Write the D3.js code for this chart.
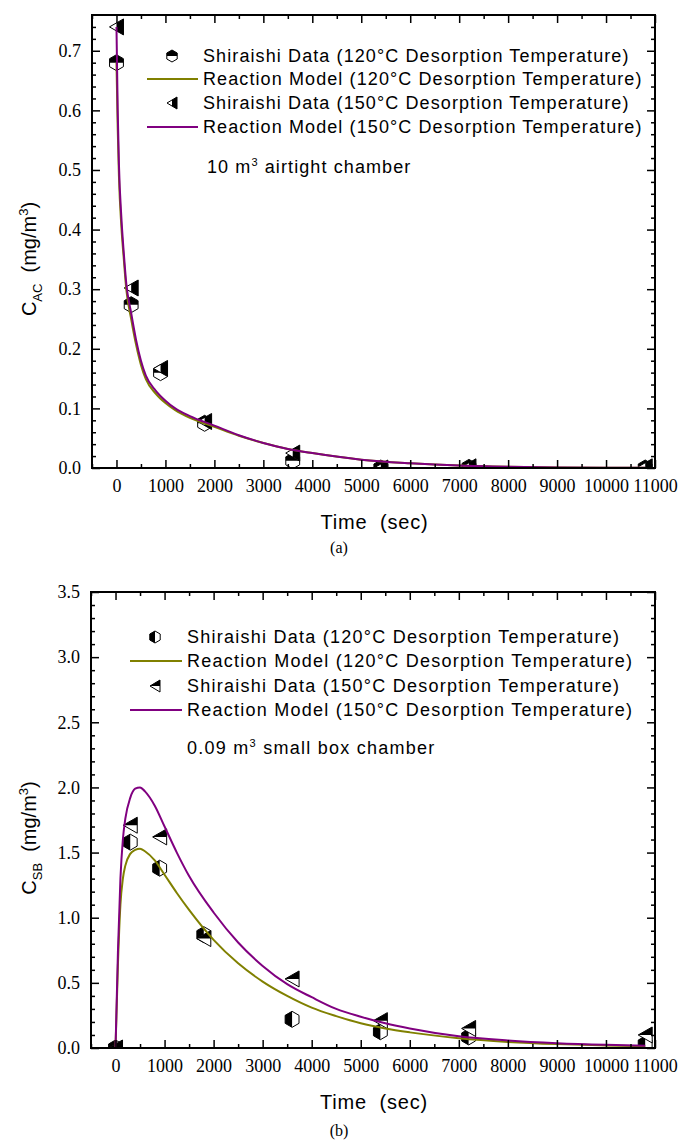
<!DOCTYPE html>
<html>
<head>
<meta charset="utf-8">
<script src="https://cdn.jsdelivr.net/npm/d3@7/dist/d3.min.js"></script>
<style>
  body { margin: 0; background: #fff; }
  svg { display: block; }
  .legend-text { font-family: 'Liberation Sans', Arial, sans-serif; font-size: 18px; fill: #000; }
  .axis-title { font-family: 'Liberation Sans', Arial, sans-serif; font-size: 20px; fill: #000; }
  .caption { font-family: 'Liberation Serif', 'Times New Roman', serif; font-size: 16px; fill: #000; }
</style>
</head>
<body>
<svg width="679" height="1144"></svg>
<script>
// shared x axis
const timeTicks = [0, 1000, 2000, 3000, 4000, 5000, 6000, 7000, 8000, 9000, 10000, 11000];
const timeMinorTicks = [-500, 500, 1500, 2500, 3500, 4500, 5500, 6500, 7500, 8500, 9500, 10500];
const sampleTimes = [0, 300, 900, 1800, 3600, 5400, 7200, 10800];

// panel (a) : 10 m3 airtight chamber
const acTicks = [0, 0.1, 0.2, 0.3, 0.4, 0.5, 0.6, 0.7];
const acData120 = [0.68, 0.274, 0.16, 0.075, 0.012, 0.0, 0.001, 0.0];
const acData150 = [0.74, 0.302, 0.167, 0.078, 0.025, 0.0, 0.002, 0.002];
const acModelTimes = [0, 25, 50, 100, 150, 200, 300, 400, 500, 600, 800, 1000, 1200, 1500, 2000, 2500, 3000, 3500, 4000, 5000, 6000, 7000, 8000, 9000, 10000, 10800];
const acModel120 = [0.68, 0.57, 0.49, 0.405, 0.35, 0.30, 0.25, 0.207, 0.173, 0.149, 0.125, 0.109, 0.097, 0.084, 0.069, 0.054, 0.042, 0.032, 0.025, 0.014, 0.008, 0.004, 0.002, 0.001, 0.0005, 0.0003];
const acModel150 = [0.74, 0.60, 0.51, 0.42, 0.36, 0.31, 0.26, 0.215, 0.18, 0.155, 0.13, 0.113, 0.1, 0.087, 0.071, 0.055, 0.042, 0.032, 0.025, 0.014, 0.008, 0.004, 0.002, 0.001, 0.0005, 0.0003];

// panel (b) : 0.09 m3 small box chamber
const sbTicks = [0, 0.5, 1.0, 1.5, 2.0, 2.5, 3.0, 3.5];
const sbData120 = [0.0, 1.58, 1.38, 0.87, 0.22, 0.125, 0.085, 0.03];
const sbData150 = [0.0, 1.71, 1.62, 0.84, 0.53, 0.21, 0.15, 0.10];
const sbModelTimes = [0, 50, 100, 150, 200, 300, 400, 500, 600, 800, 1000, 1250, 1500, 2000, 2500, 3000, 3500, 4000, 4500, 5000, 5500, 6000, 7000, 8000, 9000, 10000, 10800];
const sbModel120 = [0, 0.65, 1.1, 1.3, 1.4, 1.49, 1.52, 1.53, 1.51, 1.44, 1.33, 1.19, 1.06, 0.83, 0.65, 0.51, 0.40, 0.31, 0.245, 0.19, 0.15, 0.12, 0.075, 0.047, 0.03, 0.02, 0.014];
const sbModel150 = [0, 0.75, 1.3, 1.6, 1.76, 1.92, 1.99, 2.0, 1.97, 1.86, 1.70, 1.50, 1.32, 1.04, 0.81, 0.63, 0.49, 0.39, 0.30, 0.24, 0.19, 0.15, 0.09, 0.058, 0.037, 0.024, 0.017];

const legendLabels = [
  'Shiraishi Data (120°C Desorption Temperature)',
  'Reaction Model (120°C Desorption Temperature)',
  'Shiraishi Data (150°C Desorption Temperature)',
  'Reaction Model (150°C Desorption Temperature)'
];

const olive = '#808000';
const purple = '#800080';
const tickFont = "'Liberation Serif', 'Times New Roman', serif";

const svg = d3.select('svg');
const defs = svg.append('defs');

// half filled markers
const hexagon = (g, x, y, r, half) => {
  const pts = d3.range(6).map(i => {
    const a = -Math.PI / 2 + i * Math.PI / 3;
    return [x + r * Math.cos(a), y + r * Math.sin(a)];
  });
  const c = r * Math.cos(Math.PI / 6);
  g.append('path')
    .attr('d', 'M' + pts.join('L') + 'Z')
    .attr('fill', '#fff').attr('stroke', '#000').attr('stroke-width', 1);
  const fillPts = half === 'top'
    ? [[x - c, y], [x - c, y - r / 2], [x, y - r], [x + c, y - r / 2], [x + c, y]]
    : [[x, y - r], [x - c, y - r / 2], [x - c, y + r / 2], [x, y + r]];
  g.append('path').attr('d', 'M' + fillPts.join('L') + 'Z').attr('fill', '#000');
};

const triangle = (g, x, y, w, h, half) => {
  g.append('path')
    .attr('d', `M${x - w / 2},${y}L${x + w / 2},${y - h / 2}L${x + w / 2},${y + h / 2}Z`)
    .attr('fill', '#fff').attr('stroke', '#000').attr('stroke-width', 1);
  const fillPts = half === 'right'
    ? [[x, y - h / 4], [x + w / 2, y - h / 2], [x + w / 2, y + h / 2], [x, y + h / 4]]
    : [[x - w / 2, y], [x + w / 2, y - h / 2], [x + w / 2, y]];
  g.append('path').attr('d', 'M' + fillPts.join('L') + 'Z').attr('fill', '#000');
};

const render = p => {
  const xScale = d3.scaleLinear().domain([-500, 11000]).range([p.left, p.right]);
  const yScale = d3.scaleLinear().domain(p.yDomain).range([p.bottom, p.top]);
  const innerWidth = p.right - p.left;
  const innerHeight = p.bottom - p.top;
  const g = svg.append('g');

  defs.append('clipPath').attr('id', p.id)
    .append('rect')
    .attr('x', p.left).attr('y', p.top)
    .attr('width', innerWidth).attr('height', innerHeight);

  // data markers (drawn under the model curves)
  const markG = g.append('g').attr('clip-path', `url(#${p.id})`);
  sampleTimes.forEach((t, i) => {
    hexagon(markG, xScale(t), yScale(p.data120[i]), 8, p.hexHalf);
    triangle(markG, xScale(t), yScale(p.data150[i]), 14, 16, p.triHalf);
  });

  const line = d3.line()
    .x(d => xScale(d[0]))
    .y(d => yScale(d[1]))
    .curve(d3.curveMonotoneX);

  g.append('path')
    .attr('d', line(p.modelTimes.map((t, i) => [t, p.model120[i]])))
    .attr('fill', 'none').attr('stroke', olive).attr('stroke-width', 2);
  g.append('path')
    .attr('d', line(p.modelTimes.map((t, i) => [t, p.model150[i]])))
    .attr('fill', 'none').attr('stroke', purple).attr('stroke-width', 2);

  // minor ticks, inward on all four sides
  const minorAxes = [
    [d3.axisBottom(xScale).tickValues(timeMinorTicks), `translate(0,${p.bottom})`],
    [d3.axisTop(xScale).tickValues(timeMinorTicks), `translate(0,${p.top})`],
    [d3.axisLeft(yScale).tickValues(p.yMinor), `translate(${p.left},0)`],
    [d3.axisRight(yScale).tickValues(p.yMinor), `translate(${p.right},0)`]
  ];
  minorAxes.forEach(([axis, tr]) => {
    const mg = g.append('g').attr('transform', tr)
      .call(axis.tickSize(-4).tickFormat(''));
    mg.select('.domain').remove();
    mg.selectAll('line').attr('stroke-width', 1.5);
  });

  // major ticks + labels
  const majorAxes = [
    [d3.axisBottom(xScale).tickValues(timeTicks).tickFormat(d3.format('d')), `translate(0,${p.bottom})`],
    [d3.axisTop(xScale).tickValues(timeTicks).tickFormat(''), `translate(0,${p.top})`],
    [d3.axisLeft(yScale).tickValues(p.yTicks).tickFormat(d3.format('.1f')), `translate(${p.left},0)`],
    [d3.axisRight(yScale).tickValues(p.yTicks).tickFormat(''), `translate(${p.right},0)`]
  ];
  majorAxes.forEach(([axis, tr]) => {
    const ag = g.append('g').attr('transform', tr)
      .call(axis.tickSize(-8).tickPadding(11))
      .attr('font-family', tickFont)
      .attr('font-size', 18);
    ag.select('.domain').remove();
    ag.selectAll('line').attr('stroke-width', 1.5);
    ag.selectAll('text').attr('fill', '#000');
  });

  g.append('rect')
    .attr('x', p.left).attr('y', p.top)
    .attr('width', innerWidth).attr('height', innerHeight)
    .attr('fill', 'none').attr('stroke', '#000').attr('stroke-width', 2);

  // legend
  const lg = g.append('g');
  p.legendRows.forEach((y, i) => {
    if (i % 2 === 0) {
      if (i === 0) hexagon(lg, p.legendMarkX, y, 6, p.hexHalf);
      else triangle(lg, p.legendMarkX, y, 10, 12, p.triHalf);
    } else {
      lg.append('line')
        .attr('x1', p.legendLine[0]).attr('x2', p.legendLine[1])
        .attr('y1', y).attr('y2', y)
        .attr('stroke', i === 1 ? olive : purple).attr('stroke-width', 2);
    }
    lg.append('text')
      .attr('class', 'legend-text')
      .attr('x', p.legendTextX).attr('y', y).attr('dy', '0.36em')
      .attr('letter-spacing', p.letterSpacing)
      .text(legendLabels[i]);
  });

  const note = lg.append('text')
    .attr('class', 'legend-text')
    .attr('x', p.noteX).attr('y', p.noteY).attr('dy', '0.36em')
    .attr('letter-spacing', p.letterSpacing);
  note.append('tspan').text(p.note[0]);
  note.append('tspan').attr('dy', -7).attr('font-size', 11).text('3');
  note.append('tspan').attr('dy', 7).text(p.note[1]);

  // axis titles
  g.append('text')
    .attr('class', 'axis-title')
    .attr('x', (p.left + p.right) / 2 + 1).attr('y', p.xTitleY)
    .attr('text-anchor', 'middle')
    .attr('letter-spacing', 0.8)
    .text('Time\u00a0\u00a0(sec)');

  const yt = g.append('text')
    .attr('class', 'axis-title')
    .attr('transform', `translate(${p.yTitleX},${p.yTitleY}) rotate(-90)`)
    .attr('text-anchor', 'middle');
  yt.append('tspan').text('C');
  yt.append('tspan').attr('dy', 6).attr('font-size', 13).text(p.sub);
  yt.append('tspan').attr('dy', -6).text('\u00a0\u00a0(mg/m');
  yt.append('tspan').attr('dy', -8).attr('font-size', 13).text('3');
  yt.append('tspan').attr('dy', 8).text(')');

  g.append('text')
    .attr('class', 'caption')
    .attr('x', 339).attr('y', p.captionY)
    .attr('text-anchor', 'middle')
    .text(p.caption);
};

render({
  id: 'clip-a',
  left: 92, right: 655, top: 15, bottom: 468,
  yDomain: [0, 0.76], yTicks: acTicks,
  yMinor: d3.range(0.02, 0.76, 0.02).filter(v => Math.abs(v * 10 - Math.round(v * 10)) > 0.01),
  data120: acData120, data150: acData150,
  modelTimes: acModelTimes, model120: acModel120, model150: acModel150,
  hexHalf: 'top', triHalf: 'right',
  legendRows: [56, 79, 103, 127], legendMarkX: 172, legendLine: [147, 198], legendTextX: 203,
  letterSpacing: 1.1,
  noteX: 207, noteY: 167, note: ['10 m', ' airtight chamber'],
  xTitleY: 529, yTitleX: 36, yTitleY: 259, sub: 'AC',
  caption: '(a)', captionY: 553
});

render({
  id: 'clip-b',
  left: 91, right: 655, top: 592, bottom: 1048,
  yDomain: [0, 3.5], yTicks: sbTicks,
  yMinor: d3.range(0.1, 3.5, 0.1).filter(v => Math.abs(v * 2 - Math.round(v * 2)) > 0.01),
  data120: sbData120, data150: sbData150,
  modelTimes: sbModelTimes, model120: sbModel120, model150: sbModel150,
  hexHalf: 'left', triHalf: 'top',
  legendRows: [637, 661, 686, 710], legendMarkX: 155, legendLine: [130, 182], legendTextX: 187,
  letterSpacing: 1.25,
  noteX: 187, noteY: 748, note: ['0.09 m', ' small box chamber'],
  xTitleY: 1109, yTitleX: 36, yTitleY: 838, sub: 'SB',
  caption: '(b)', captionY: 1136
});
</script>
</body>
</html>
